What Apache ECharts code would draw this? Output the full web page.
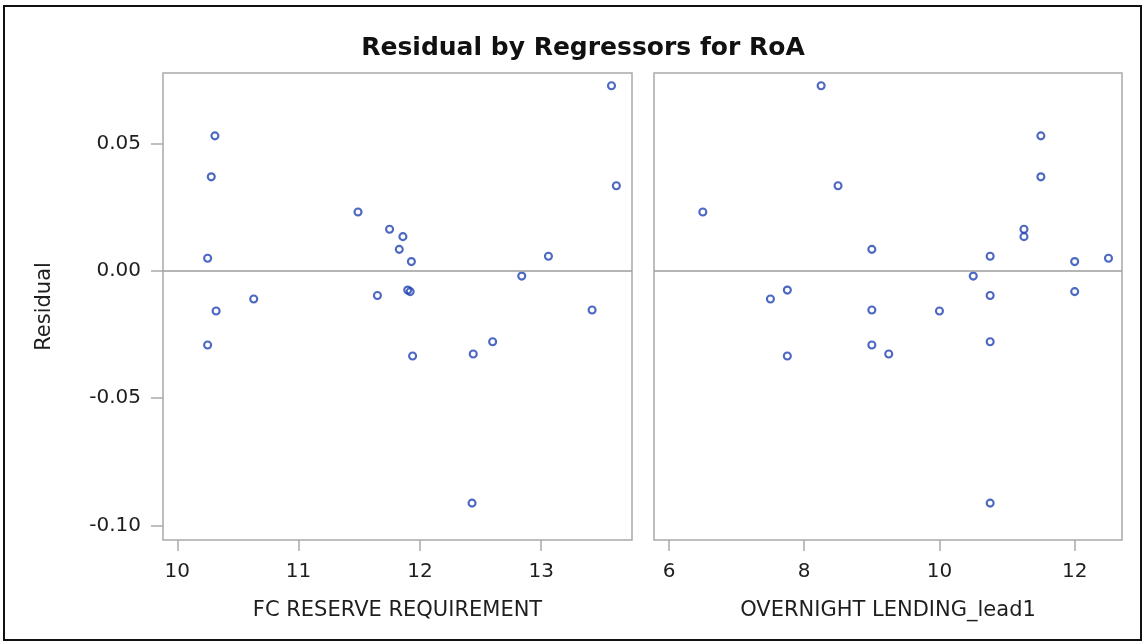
<!DOCTYPE html>
<html>
<head>
<meta charset="utf-8">
<title>Residual by Regressors for RoA</title>
<script src="https://cdn.jsdelivr.net/npm/echarts@6/dist/echarts.min.js"></script>
<style>
  html, body { margin: 0; padding: 0; background: #ffffff; }
  #chart { width: 1146px; height: 643px; }
</style>
</head>
<body>
<div id="chart"></div>
<script>
// Observations: FC reserve requirement, overnight lending (lead 1) and the model residual
const fcReserve = [10.31, 10.28, 10.25, 11.49, 11.75, 11.86, 11.83, 11.93, 13.58, 13.62, 13.06, 12.84,
                   11.90, 11.92, 10.63, 10.32, 11.65, 10.25, 11.94, 12.44, 12.60, 13.42, 12.43];
const overnightLending = [11.5, 11.5, 12.5, 6.5, 11.25, 11.25, 9.0, 12.0, 8.25, 8.5, 10.75, 10.5,
                          7.75, 12.0, 7.5, 10.0, 10.75, 9.0, 7.75, 9.25, 10.75, 9.0, 10.75];
const residual = [0.0531, 0.0370, 0.0050, 0.0232, 0.0164, 0.0135, 0.0085, 0.0037, 0.0728, 0.0335, 0.0058, -0.0020,
                  -0.0075, -0.0081, -0.0110, -0.0157, -0.0096, -0.0291, -0.0334, -0.0326, -0.0278, -0.0153, -0.0912];

// Tick positions
const residualTicks = [-0.10, -0.05, 0.00, 0.05];
const fcTicks = [10, 11, 12, 13];
const lendingTicks = [6, 8, 10, 12];

const TEXT = '#1e1e1e';
const FRAME = '#a9a9a9';
const MARK = '#1f42b2';
const FONT = 'DejaVu Sans';

const pairs = (xs, ys) => xs.map((x, i) => [x, ys[i]]);

function xAxisFor(gridIndex, name, min, max, ticks) {
  return {
    type: 'value', gridIndex, name, min, max,
    position: 'bottom',
    nameLocation: 'middle', nameGap: 60,
    nameTextStyle: { color: TEXT, fontFamily: FONT, fontSize: 21 },
    axisLine: { show: false, onZero: false },
    axisTick: { show: true, inside: false, length: 11, lineStyle: { color: FRAME, width: 1.5 }, customValues: ticks },
    axisLabel: { color: TEXT, fontFamily: FONT, fontSize: 20, margin: 22, customValues: ticks },
    splitLine: { show: false }
  };
}

function yAxisFor(gridIndex, showLabels) {
  return {
    type: 'value', gridIndex, min: -0.1057, max: 0.0778,
    position: 'left',
    name: showLabels ? 'Residual' : '',
    nameLocation: 'middle', nameGap: 108,
    nameTextStyle: { color: TEXT, fontFamily: FONT, fontSize: 21 },
    axisLine: { show: false, onZero: false },
    axisTick: { show: showLabels, length: 12, lineStyle: { color: FRAME, width: 1.5 }, customValues: residualTicks },
    axisLabel: {
      show: showLabels, color: TEXT, fontFamily: FONT, fontSize: 20, margin: 22,
      customValues: residualTicks,
      formatter: v => v.toFixed(2)
    },
    splitLine: { show: false }
  };
}

function scatterFor(index, data) {
  return {
    type: 'scatter', xAxisIndex: index, yAxisIndex: index,
    data, symbol: 'circle', symbolSize: 7,
    itemStyle: { color: 'rgba(255,255,255,0)', borderColor: MARK, borderWidth: 2.1 },
    emphasis: { disabled: true },
    markLine: {
      silent: true, symbol: 'none', animation: false,
      label: { show: false },
      lineStyle: { color: '#9c9c9c', width: 1.5, type: 'solid' },
      data: [{ yAxis: 0 }]
    },
    z: 3
  };
}

const chart = echarts.init(document.getElementById('chart'), null, { renderer: 'canvas' });
chart.setOption({
  animation: false,
  backgroundColor: '#ffffff',
  title: {
    text: 'Residual by Regressors for RoA',
    left: 578, top: 31, textAlign: 'center',
    textStyle: { color: '#111111', fontFamily: FONT, fontSize: 25, fontWeight: 'bold' }
  },
  graphic: [{
    type: 'rect', silent: true, z: -1,
    shape: { x: 4, y: 6, width: 1137, height: 634 },
    style: { fill: 'none', stroke: '#111111', lineWidth: 2 }
  }],
  grid: [
    { left: 163, top: 73, width: 469, height: 467, show: true, borderColor: FRAME, borderWidth: 1.5, backgroundColor: '#fff' },
    { left: 654, top: 73, width: 468, height: 467, show: true, borderColor: FRAME, borderWidth: 1.5, backgroundColor: '#fff' }
  ],
  xAxis: [
    xAxisFor(0, 'FC RESERVE REQUIREMENT', 9.882, 13.749, fcTicks),
    xAxisFor(1, 'OVERNIGHT LENDING_lead1', 5.778, 12.70, lendingTicks)
  ],
  yAxis: [yAxisFor(0, true), yAxisFor(1, false)],
  series: [
    scatterFor(0, pairs(fcReserve, residual)),
    scatterFor(1, pairs(overnightLending, residual))
  ]
});
</script>
</body>
</html>
